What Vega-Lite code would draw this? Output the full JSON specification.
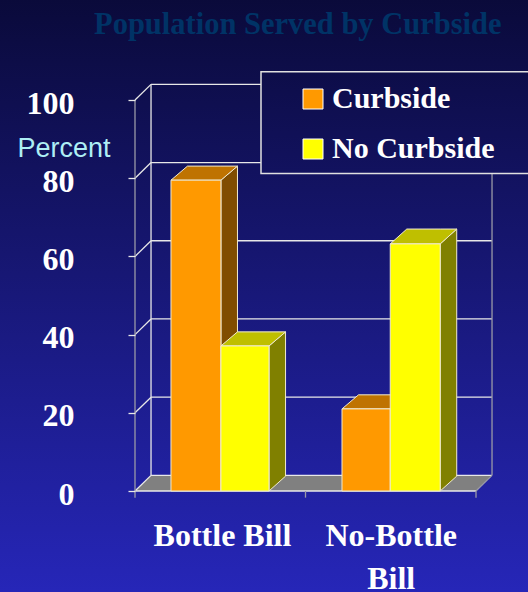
{
"$schema":"https://vega.github.io/schema/vega-lite/v6.json",
"width":528,"height":592,"padding":0,"autosize":{"type":"none"},
"background":"#0a0a3a",
"config":{"view":{"stroke":null}},
"title":{"text":"Population Served by Curbside","orient":"top","anchor":"start","frame":"group","offset":-42,"dx":94,"font":"Liberation Serif","fontSize":30.5,"fontWeight":"bold","color":"#003366"},
"datasets":{
"panel":[{"x":-0.8,"x2":2.4,"y":-26,"y2":126}],
"box":[{"x":0.739,"x2":2.5,"y":81.2,"y2":107.2}],
"floor":[{"x":0,"y":0,"y2":0},{"x":0.094,"y":0,"y2":4},{"x":2,"y":0,"y2":4},{"x":2.094,"y":4,"y2":4}],
"light":[
{"x":0.094,"x2":2.094,"y":4,"y2":4},{"x":0.094,"x2":2.094,"y":24,"y2":24},{"x":0.094,"x2":2.094,"y":44,"y2":44},{"x":0.094,"x2":2.094,"y":64,"y2":64},{"x":0.094,"x2":2.094,"y":84,"y2":84},{"x":0.094,"x2":2.094,"y":104,"y2":104},
{"x":0,"x2":0.094,"y":0,"y2":4},{"x":0,"x2":0.094,"y":20,"y2":24},{"x":0,"x2":0.094,"y":40,"y2":44},{"x":0,"x2":0.094,"y":60,"y2":64},{"x":0,"x2":0.094,"y":80,"y2":84},{"x":0,"x2":0.094,"y":100,"y2":104},
{"x":0.094,"x2":0.094,"y":4,"y2":104},{"x":0,"x2":2,"y":0,"y2":0}],
"dim":[
{"x":2.094,"x2":2.094,"y":4,"y2":104},{"x":0,"x2":0,"y":-1.7,"y2":100},{"x":1,"x2":1,"y":-1.7,"y2":0},{"x":2,"x2":2,"y":-1.7,"y2":0},{"x":2,"x2":2.094,"y":0,"y2":4}],
"faces":[
{"bar":"a side","face":"Curbside side","x":0.504,"y":0,"y2":79.5},{"bar":"a side","face":"Curbside side","x":0.601,"y":3.7,"y2":83.1},
{"bar":"a top","face":"Curbside top","x":0.211,"y":79.5,"y2":79.5},{"bar":"a top","face":"Curbside top","x":0.308,"y":79.5,"y2":83.1},{"bar":"a top","face":"Curbside top","x":0.504,"y":79.5,"y2":83.1},{"bar":"a top","face":"Curbside top","x":0.601,"y":83.1,"y2":83.1},
{"bar":"b side","face":"No Curbside side","x":0.786,"y":0,"y2":37.1},{"bar":"b side","face":"No Curbside side","x":0.883,"y":3.8,"y2":40.7},
{"bar":"b top","face":"No Curbside top","x":0.504,"y":37.1,"y2":37.1},{"bar":"b top","face":"No Curbside top","x":0.601,"y":37.1,"y2":40.7},{"bar":"b top","face":"No Curbside top","x":0.786,"y":37.1,"y2":40.7},{"bar":"b top","face":"No Curbside top","x":0.883,"y":40.7,"y2":40.7},
{"bar":"c side","face":"Curbside side","x":1.497,"y":0,"y2":21},{"bar":"c side","face":"Curbside side","x":1.594,"y":3.7,"y2":24.6},
{"bar":"c top","face":"Curbside top","x":1.214,"y":21,"y2":21},{"bar":"c top","face":"Curbside top","x":1.311,"y":21,"y2":24.6},{"bar":"c top","face":"Curbside top","x":1.497,"y":21,"y2":24.6},{"bar":"c top","face":"Curbside top","x":1.594,"y":24.6,"y2":24.6},
{"bar":"d side","face":"No Curbside side","x":1.79,"y":0,"y2":63.2},{"bar":"d side","face":"No Curbside side","x":1.887,"y":3.8,"y2":67},
{"bar":"d top","face":"No Curbside top","x":1.497,"y":63.2,"y2":63.2},{"bar":"d top","face":"No Curbside top","x":1.594,"y":63.2,"y2":67},{"bar":"d top","face":"No Curbside top","x":1.79,"y":63.2,"y2":67},{"bar":"d top","face":"No Curbside top","x":1.887,"y":67,"y2":67}],
"bars":[
{"group":"Bottle Bill","series":"Curbside","x":0.211,"x2":0.504,"y":79.5,"y2":0},
{"group":"Bottle Bill","series":"No Curbside","x":0.504,"x2":0.786,"y":37.1,"y2":0},
{"group":"No-Bottle Bill","series":"Curbside","x":1.214,"x2":1.497,"y":21,"y2":0},
{"group":"No-Bottle Bill","series":"No Curbside","x":1.497,"x2":1.79,"y":63.2,"y2":0}]
},
"encoding":{
"x":{"field":"x","type":"quantitative","title":null,"scale":{"domain":[-0.7918,2.305],"nice":false,"zero":false},
"axis":{"zindex":1,"orient":"bottom","offset":-101,"values":[0.51,1.5],"labelExpr":"datum.value<1 ? 'Bottle Bill' : ['No-Bottle','Bill']","ticks":false,"domain":false,"grid":false,"labelPadding":54,"labelBaseline":"alphabetic","labelLineHeight":43,"labelFont":"Liberation Serif","labelFontSize":32,"labelFontWeight":"bold","labelColor":"#ffffff","labelOverlap":false,"labelBound":false,"labelFlush":false}},
"y":{"field":"y","type":"quantitative","stack":null,"title":"Percent","scale":{"domain":[-25.83,125.58],"nice":false,"zero":false},
"axis":{"zindex":1,"orient":"left","offset":-135,"values":[0,20,40,60,80,100],"domain":false,"grid":false,"tickSize":7,"tickColor":"#e8e8e8","tickWidth":1.3,"labelPadding":54,"labelOffset":3,"labelFont":"Liberation Serif","labelFontSize":32,"labelFontWeight":"bold","labelColor":"#ffffff","labelOverlap":false,"labelBound":false,"titleAngle":0,"titleX":-71.5,"titleY":156,"titleAlign":"center","titleBaseline":"alphabetic","titleFont":"Liberation Sans","titleFontSize":27,"titleFontWeight":"normal","titleColor":"#aeeef5"}}
},
"layer":[
{"data":{"name":"panel"},"mark":{"type":"rect","fill":{"gradient":"linear","x1":0,"y1":0,"x2":0,"y2":1,"stops":[{"offset":0,"color":"#0a0a3a"},{"offset":1,"color":"#2626b8"}]}},"encoding":{"x2":{"field":"x2"},"y2":{"field":"y2"}}},
{"data":{"name":"floor"},"mark":{"type":"area","orient":"vertical","fill":"#808080"},"encoding":{"y2":{"field":"y2"}}},
{"data":{"name":"light"},"mark":{"type":"rule","color":"#e8e8e8","strokeWidth":1.3},"encoding":{"x2":{"field":"x2"},"y2":{"field":"y2"}}},
{"data":{"name":"dim"},"mark":{"type":"rule","color":"#9a9aa8","strokeWidth":1.3},"encoding":{"x2":{"field":"x2"},"y2":{"field":"y2"}}},
{"data":{"name":"faces"},"mark":{"type":"area","orient":"vertical","stroke":"#f0ead0","strokeWidth":1,"opacity":1},
"encoding":{"y2":{"field":"y2"},"detail":{"field":"bar"},"color":{"field":"face","type":"nominal","legend":null,"scale":{"domain":["Curbside side","Curbside top","No Curbside side","No Curbside top"],"range":["#804d00","#bf7300","#808000","#bfbf00"]}}}},
{"data":{"name":"bars"},"mark":{"type":"rect","stroke":"#f0ead0","strokeWidth":1},
"encoding":{"x2":{"field":"x2"},"y2":{"field":"y2"},"fill":{"field":"series","type":"nominal","scale":{"domain":["Curbside","No Curbside"],"range":["#ff9900","#ffff00"]},
"legend":{"orient":"none","legendX":298,"legendY":84,"title":null,"padding":0,"symbolType":"square","symbolSize":400,"symbolStrokeColor":"#ffffff","symbolStrokeWidth":1,"symbolOpacity":1,"rowPadding":20,"labelOffset":4,"labelFont":"Liberation Serif","labelFontSize":30,"labelFontWeight":"bold","labelColor":"#ffffff","labelLimit":300}}}},
{"data":{"name":"box"},"mark":{"type":"rect","clip":true,"stroke":"#e0e0e0","strokeWidth":1.5,"fill":{"gradient":"linear","x1":0,"y1":0,"x2":0,"y2":1,"stops":[{"offset":0,"color":"#0d0d49"},{"offset":1,"color":"#12125f"}]}},"encoding":{"x2":{"field":"x2"},"y2":{"field":"y2"}}}
]
}
